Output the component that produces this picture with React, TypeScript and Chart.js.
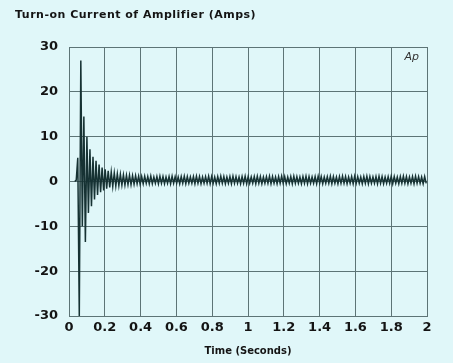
import React, { useEffect, useRef } from "react";
import { Chart, registerables } from "chart.js";

Chart.register(...registerables);

const TITLE = "Turn-on Current of Amplifier (Amps)";
const X_TITLE = "Time (Seconds)";
const CORNER_LABEL = "Ap";

const X_TICKS = [0, 0.2, 0.4, 0.6, 0.8, 1, 1.2, 1.4, 1.6, 1.8, 2];
const Y_TICKS = [-30, -20, -10, 0, 10, 20, 30];

// uniformly sampled record: one sample per half-cycle of the ripple
const SAMPLE_START = 0.032;
const SAMPLE_STEP = 0.0085;

const CURRENT = [
  0, 0.3, 5.3, -30, 27, -10, 14.5, -13.5, 10, -7,
  7.2, -5.5, 5.5, -4, 4.6, -3, 3.8, -2.4, 3.1, -2,
  2.7, -1.6, 2.4, -1.3, 2.1, -1.1, 1.9, -1.0, 1.7, -0.9,
  1.6, -0.8, 1.5, -0.8, 1.4, -0.7, 1.4, -0.7, 1.3, -0.6,
  1.3, -0.5, 1.2, -0.6, 1.1, -0.5, 1.2, -0.4, 1.1, -0.5,
  1.2, -0.5, 1.0, -0.4, 1.1, -0.5, 1.2, -0.4, 1.1, -0.5,
  1.0, -0.4, 1.1, -0.5, 1.2, -0.4, 1.1, -0.4, 1.0, -0.5,
  1.1, -0.4, 1.2, -0.5, 1.1, -0.4, 1.0, -0.4, 1.1, -0.5,
  1.2, -0.4, 1.1, -0.5, 1.0, -0.4, 1.1, -0.4, 1.2, -0.5,
  1.1, -0.4, 1.0, -0.5, 1.1, -0.4, 1.2, -0.4, 1.1, -0.5,
  1.0, -0.4, 1.1, -0.5, 1.2, -0.4, 1.1, -0.4, 1.0, -0.5,
  1.1, -0.4, 1.2, -0.5, 1.1, -0.4, 1.0, -0.4, 1.1, -0.5,
  1.2, -0.4, 1.1, -0.5, 1.0, -0.4, 1.1, -0.4, 1.2, -0.5,
  1.1, -0.4, 1.0, -0.5, 1.1, -0.4, 1.2, -0.4, 1.1, -0.5,
  1.0, -0.4, 1.1, -0.5, 1.2, -0.4, 1.1, -0.4, 1.0, -0.5,
  1.1, -0.4, 1.2, -0.5, 1.1, -0.4, 1.0, -0.4, 1.1, -0.5,
  1.2, -0.4, 1.1, -0.5, 1.0, -0.4, 1.1, -0.4, 1.2, -0.5,
  1.1, -0.4, 1.0, -0.5, 1.1, -0.4, 1.2, -0.4, 1.1, -0.5,
  1.0, -0.4, 1.1, -0.5, 1.2, -0.4, 1.1, -0.4, 1.0, -0.5,
  1.1, -0.4, 1.2, -0.5, 1.1, -0.4, 1.0, -0.4, 1.1, -0.5,
  1.2, -0.4, 1.1, -0.5, 1.0, -0.4, 1.1, -0.4, 1.2, -0.5,
  1.1, -0.4, 1.0, -0.5, 1.1, -0.4, 1.2, -0.4, 1.1, -0.5,
  1.0, -0.4, 1.1, -0.5, 1.2, -0.4, 1.1, -0.4, 1.0, -0.5,
  1.1, -0.4,
];

const BG = "#e0f7f9";
const GRID = "#5d7476";
const LINE = "#163233";
const TEXT = "#141414";

const textPlugin = {
  id: "texts",
  afterDraw(chart: any) {
    const ctx = chart.ctx;
    const area = chart.chartArea;
    ctx.save();
    ctx.fillStyle = TEXT;
    ctx.font = "bold 11px 'DejaVu Sans'";
    ctx.textAlign = "left";
    ctx.textBaseline = "middle";
    try {
      (ctx as any).letterSpacing = "0.5px";
    } catch (e) {}
    ctx.fillText(TITLE, 15, 15);
    try {
      (ctx as any).letterSpacing = "0px";
    } catch (e) {}
    ctx.font = "italic 11px 'DejaVu Sans'";
    ctx.fillStyle = "#333";
    ctx.textAlign = "right";
    ctx.fillText(CORNER_LABEL, area.right - 8, area.top + 10);
    ctx.restore();
  },
};

export default function App() {
  const ref = useRef<HTMLCanvasElement | null>(null);

  useEffect(() => {
    if (!ref.current) return;
    const points = CURRENT.map((v, i) => ({ x: SAMPLE_START + i * SAMPLE_STEP, y: v }));
    const chart = new Chart(ref.current, {
      type: "line",
      data: {
        datasets: [
          {
            data: points,
            borderColor: LINE,
            borderWidth: 1.5,
            pointRadius: 0,
            tension: 0,
          },
        ],
      },
      options: {
        animation: false,
        responsive: false,
        events: [],
        layout: { padding: { left: 0, right: 26, top: 47, bottom: 0 } },
        plugins: { legend: { display: false }, tooltip: { enabled: false }, title: { display: false } },
        scales: {
          x: {
            type: "linear",
            min: 0,
            max: 2,
            afterBuildTicks: (s: any) => {
              s.ticks = X_TICKS.map((v) => ({ value: v }));
            },
            afterFit: (s: any) => {
              s.height = 47;
            },
            ticks: {
              color: TEXT,
              font: { family: "'DejaVu Sans'", size: 13, weight: "bold" },
              padding: 4,
              maxRotation: 0,
              autoSkip: false,
              callback: (v: any) => String(v),
            },
            grid: { color: GRID, lineWidth: 1, drawTicks: false },
            border: { color: GRID, width: 1 },
            title: {
              display: true,
              text: X_TITLE,
              color: TEXT,
              font: { family: "'DejaVu Sans'", size: 10, weight: "bold" },
              padding: { top: 0, bottom: 6 },
            },
          },
          y: {
            type: "linear",
            min: -30,
            max: 30,
            afterBuildTicks: (s: any) => {
              s.ticks = Y_TICKS.map((v) => ({ value: v }));
            },
            afterFit: (s: any) => {
              s.width = 69;
            },
            ticks: {
              color: TEXT,
              font: { family: "'DejaVu Sans'", size: 13, weight: "bold" },
              padding: 11,
              callback: (v: any) => String(v),
            },
            grid: { color: GRID, lineWidth: 1, drawTicks: false },
            border: { color: GRID, width: 1 },
          },
        },
      },
      plugins: [textPlugin],
    });
    return () => chart.destroy();
  }, []);

  return (
    <div style={{ position: "fixed", left: 0, top: 0, width: 453, height: 363, background: BG }}>
      <canvas ref={ref} width={453} height={363} style={{ display: "block" }} />
    </div>
  );
}
